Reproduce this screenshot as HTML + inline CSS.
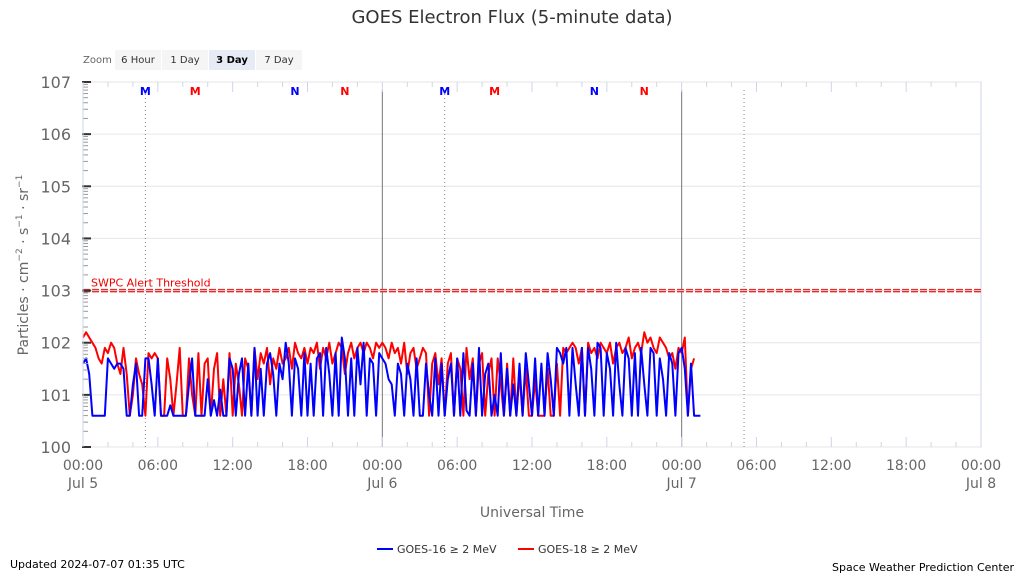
<!DOCTYPE html>
<html><head><meta charset="utf-8"><style>
body{margin:0;background:#fff;font-family:"Liberation Sans","DejaVu Sans",sans-serif}
svg text{font-family:"DejaVu Sans","Liberation Sans",sans-serif}
</style></head><body>
<svg id="c" width="1024" height="576" viewBox="0 0 1024 576">
<rect width="1024" height="576" fill="#fff"/>
<text x="512" y="23" text-anchor="middle" font-size="18" fill="#333">GOES Electron Flux (5-minute data)</text>
<g>
<text x="83" y="63" font-size="10" fill="#666">Zoom</text>
<rect x="115" y="50" width="46" height="20" fill="#f5f5f5"/>
<text x="138" y="63" font-size="10" text-anchor="middle" fill="#333">6 Hour</text>
<rect x="162" y="50" width="46" height="20" fill="#f5f5f5"/>
<text x="185" y="63" font-size="10" text-anchor="middle" fill="#333">1 Day</text>
<rect x="209" y="50" width="46" height="20" fill="#e6ebf5"/>
<text x="232" y="63" font-size="10" text-anchor="middle" fill="#000" font-weight="bold">3 Day</text>
<rect x="256" y="50" width="46" height="20" fill="#f5f5f5"/>
<text x="279" y="63" font-size="10" text-anchor="middle" fill="#333">7 Day</text>
</g>
<g id="grid"></g><g id="marks"></g><g id="series"></g><g id="axes"></g>
<text transform="translate(28,265) rotate(-90)" text-anchor="middle" font-size="14" fill="#666">Particles · cm<tspan font-size="9" dy="-6">−2</tspan><tspan dy="6"> · s</tspan><tspan font-size="9" dy="-6">−1</tspan><tspan dy="6"> · sr</tspan><tspan font-size="9" dy="-6">−1</tspan></text>
<text x="532" y="517" text-anchor="middle" font-size="14" fill="#666">Universal Time</text>
<g>
<line x1="377" y1="549" x2="393" y2="549" stroke="#0000ff" stroke-width="2"/>
<text x="397" y="553" font-size="11" fill="#333">GOES-16 ≥ 2 MeV</text>
<line x1="518" y1="549" x2="534" y2="549" stroke="#ff0000" stroke-width="2"/>
<text x="538" y="553" font-size="11" fill="#333">GOES-18 ≥ 2 MeV</text>
</g>
<text x="10" y="568" font-size="11" fill="#000">Updated 2024-07-07 01:35 UTC</text>
<text x="1014" y="571" font-size="11" fill="#000" text-anchor="end">Space Weather Prediction Center</text>
</svg>
<script>
const yDecades=[0,1,2,3,4,5,6,7];
const xTickHours=[0,6,12,18,24,30,36,42,48,54,60,66,72];
const xTickTimes=["00:00","06:00","12:00","18:00","00:00","06:00","12:00","18:00","00:00","06:00","12:00","18:00","00:00"];
const xTickDates={0:"Jul 5",24:"Jul 6",48:"Jul 7",72:"Jul 8"};
const threshold=3;
const markerHours=[5,9,17,21,29,33,41,45];
const markerLabels=["M","M","N","N","M","M","N","N"];
const markerColors=["#0000ff","#ff0000","#0000ff","#ff0000","#0000ff","#ff0000","#0000ff","#ff0000"];
const stepHours=0.25;
const goes16=[1.6,1.7,1.4,0.6,0.6,0.6,0.6,0.6,1.7,1.6,1.5,1.6,1.6,1.5,0.6,0.6,1.2,1.6,0.6,0.6,1.7,1.7,1.2,0.6,
1.7,0.6,0.6,0.6,0.8,0.6,0.6,0.6,0.6,0.6,1.2,1.7,0.6,0.6,0.6,0.6,1.3,0.6,0.9,0.6,1.1,0.6,0.6,1.7,
1.5,0.6,1.4,1.7,0.6,1.6,0.6,1.9,0.6,1.5,0.6,1.6,1.8,1.4,0.6,1.6,1.3,2.0,1.6,0.6,1.7,1.5,0.6,1.8,
0.6,1.6,0.6,1.7,1.8,0.6,1.9,1.4,0.6,1.8,0.6,2.1,1.7,0.6,1.7,0.6,1.9,1.2,2.0,0.6,1.7,1.6,0.6,1.8,
1.7,1.6,1.3,1.2,0.6,1.6,1.4,0.6,1.6,1.3,0.6,1.7,0.6,0.6,1.6,1.0,0.6,1.7,0.6,1.6,0.6,1.3,1.6,0.6,
1.7,0.6,1.8,0.7,0.6,1.6,0.6,1.9,0.6,1.4,1.6,0.6,1.0,0.6,1.8,0.6,1.5,0.6,1.2,0.6,1.6,0.6,1.8,1.2,
0.6,1.7,0.6,1.6,0.6,1.8,1.3,0.6,1.9,1.8,1.6,1.9,0.6,1.9,1.2,0.6,1.9,0.6,1.9,1.5,0.6,2.0,1.9,0.6,
1.8,1.5,0.6,2.0,1.2,0.6,1.9,1.7,0.6,1.8,0.6,1.9,1.2,0.6,1.9,1.8,0.6,1.7,1.3,0.6,1.8,1.6,0.6,1.8,
1.9,1.5,0.6,1.6,0.6,0.6,0.6];
const goes18=[2.1,2.2,2.1,2.0,1.9,1.7,1.6,1.9,1.8,2.0,1.9,1.6,1.4,1.9,1.4,0.6,1.0,1.7,1.4,1.2,0.6,1.8,1.7,1.8,
1.7,0.6,0.6,1.7,1.3,0.6,1.2,1.9,0.6,0.6,1.7,1.0,0.6,1.8,0.6,1.6,1.7,0.6,1.5,1.8,0.6,1.3,0.6,1.8,
0.6,1.6,1.2,0.6,1.7,1.5,0.6,1.9,1.3,1.8,1.6,1.9,1.2,1.7,1.5,1.9,1.6,1.7,1.9,1.5,2.0,1.8,1.7,1.9,
1.6,1.9,1.8,2.0,1.5,1.9,1.7,2.0,1.6,1.8,2.0,1.9,1.4,1.8,2.0,1.7,1.9,2.0,1.8,2.0,1.9,1.7,2.0,1.9,
2.0,1.9,1.7,2.0,1.8,1.9,1.6,2.0,1.4,1.8,1.9,1.5,1.7,1.9,1.8,0.6,1.6,1.8,1.2,1.7,0.6,1.6,1.8,0.6,
1.7,1.5,0.6,1.9,1.3,1.7,0.6,1.6,1.8,0.6,1.4,1.7,0.6,1.7,1.2,0.6,1.6,0.6,1.7,0.6,1.4,0.6,1.5,0.6,
0.6,1.3,0.6,0.6,0.6,1.5,0.6,0.6,1.6,0.6,1.9,1.8,1.9,2.0,1.9,1.6,1.9,0.6,2.0,1.8,1.9,1.7,2.0,1.9,
1.8,2.0,1.6,1.9,2.0,1.8,1.9,2.1,1.7,1.9,2.0,1.8,2.2,2.0,2.1,1.9,1.8,2.1,2.0,1.9,1.7,1.8,1.5,1.9,
1.8,2.1,0.6,1.5,1.7];

const L=83,R=981,T=82,B=447;
const X=h=>L+(R-L)*h/72;
const Y=v=>B-(B-T)*v/7;
const NS="http://www.w3.org/2000/svg";
function mk(tag,attrs,parent,txt){const e=document.createElementNS(NS,tag);for(const k in attrs)e.setAttribute(k,attrs[k]);if(txt!==undefined)e.textContent=txt;document.getElementById(parent).appendChild(e);return e;}

const frame=mk('rect',{x:L,y:T,width:R-L,height:B-T,fill:'none',stroke:'#ccd6eb'},'grid');


yDecades.forEach(d=>{
  const g=mk('line',{x1:L,x2:R,y1:Y(d),y2:Y(d),stroke:'#e6e6e6'},'grid');
  
  
  const t=mk('text',{x:L-12,y:Y(d)+6,'text-anchor':'end','font-size':16,fill:'#666'},'axes','10'+d);
  
  
  if(d<7){for(let m=2;m<10;m++){const yy=Y(d+Math.log10(m));mk('line',{x1:L,x2:L+5,y1:yy,y2:yy,stroke:'#999'},'axes');}}
  mk('line',{x1:L-1,x2:L+8,y1:Y(d),y2:Y(d),stroke:'#333','stroke-width':2},'axes');
});
mk('line',{x1:L,x2:L,y1:T,y2:B,stroke:'#ccd6eb'},'axes');
for(let h=0;h<=72;h+=2){mk('line',{x1:X(h),x2:X(h),y1:B,y2:B-(h%6==0?10:5),stroke:'#ccd6eb'},'axes');mk('line',{x1:X(h),x2:X(h),y1:T,y2:T+(h%6==0?10:5),stroke:'#ccd6eb'},'axes');}
xTickHours.forEach((h,i)=>{
  const t=mk('text',{x:X(h),y:470,'text-anchor':'middle','font-size':14,fill:'#666'},'axes',xTickTimes[i]);
  
  
  if(xTickDates[h]){const d=mk('text',{x:X(h),y:488,'text-anchor':'middle','font-size':14,fill:'#666'},'axes',xTickDates[h]);
  
  }
});
[24,48].forEach(h=>{const l=mk('line',{x1:X(h),x2:X(h),y1:90,y2:B,stroke:'#777','stroke-width':1},'marks');

});
[5,29,53].forEach(h=>{const l=mk('line',{x1:X(h),x2:X(h),y1:90,y2:B,stroke:'#888','stroke-dasharray':'1,3'},'marks');

});
markerHours.forEach((h,i)=>{const t=mk('text',{x:X(h),y:95,'text-anchor':'middle','font-size':11,'font-weight':'bold',fill:markerColors[i]},'marks',markerLabels[i]);

});
const th=mk('line',{x1:L,x2:R,y1:Y(threshold),y2:Y(threshold),stroke:'#e03030','stroke-width':3.5,'stroke-dasharray':'7,2'},'marks');


mk('line',{x1:L,x2:R,y1:Y(threshold),y2:Y(threshold),stroke:'#f6d0d0','stroke-width':0.8},'marks');
const tl=mk('text',{x:91,y:Y(threshold)-4,'font-size':11,fill:'#e00'},'marks','SWPC Alert Threshold');


function line(arr,color,name){
  const p=arr.map((v,i)=>(i?'L':'M')+X(i*stepHours).toFixed(1)+','+Y(v).toFixed(1)).join('');
  const e=mk('path',{d:p,fill:'none',stroke:color,'stroke-width':2,'stroke-linejoin':'round'},'series');
  
  
}
line(goes18,'#ff0000','goes18-series');
line(goes16,'#0000ff','goes16-series');
</script>
</body></html>
